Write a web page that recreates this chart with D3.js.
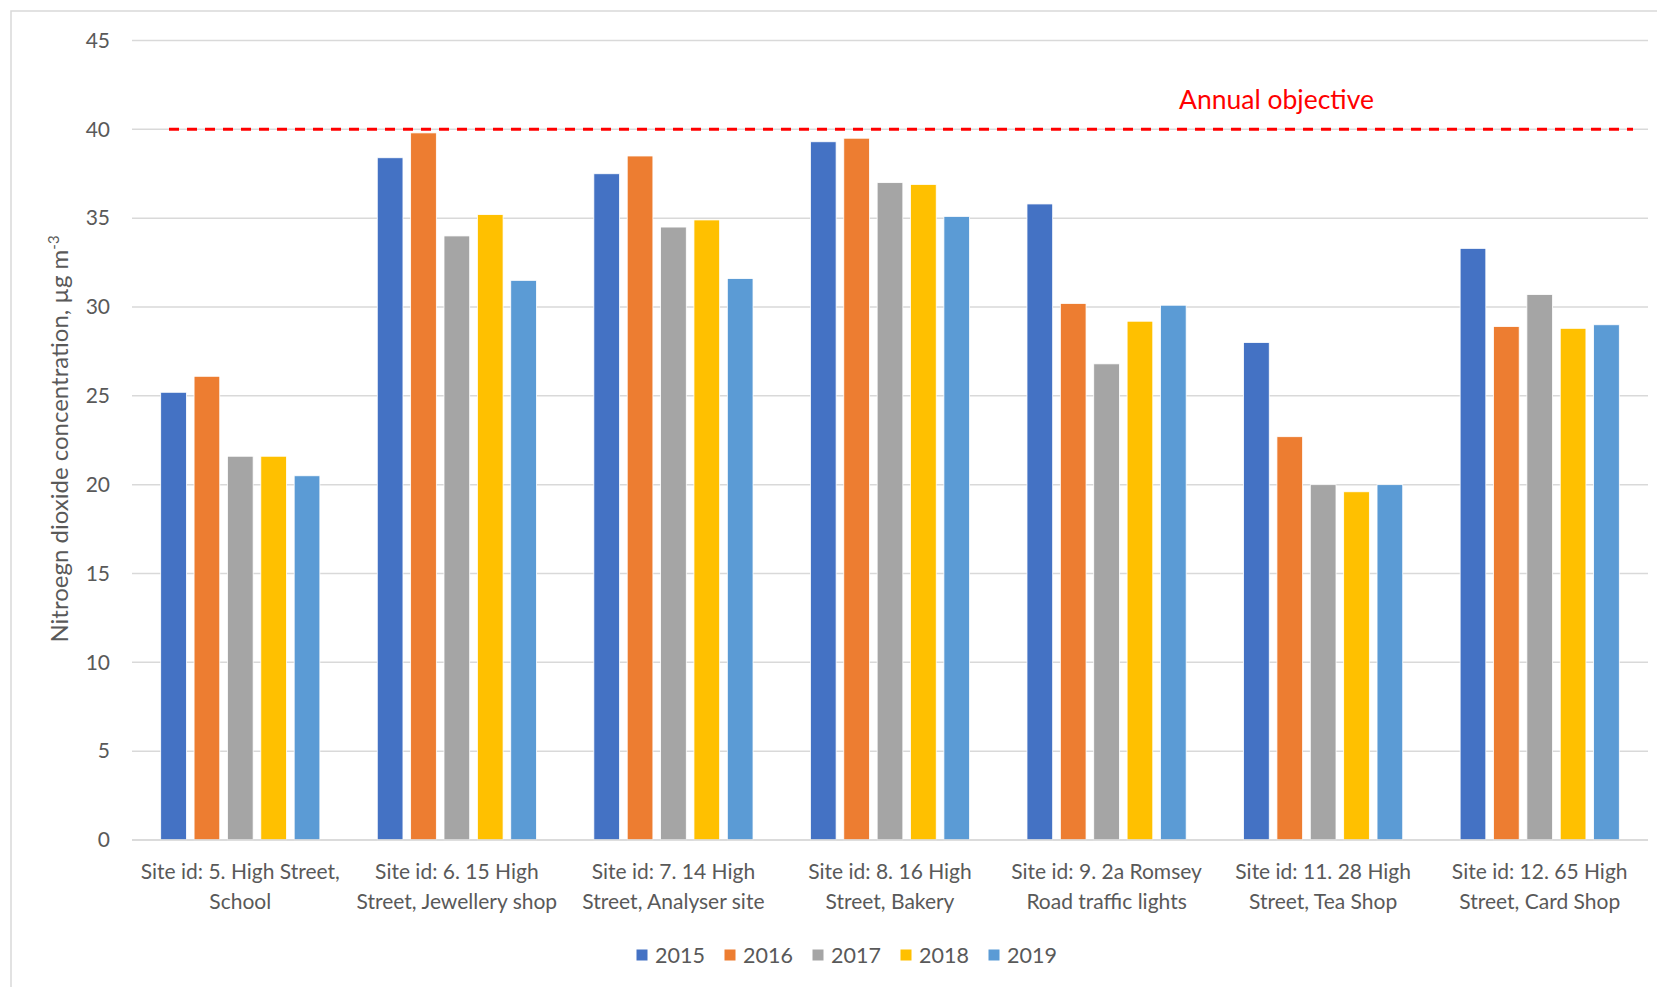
<!DOCTYPE html>
<html>
<head>
<meta charset="utf-8">
<script src="https://cdn.jsdelivr.net/npm/d3@7"></script>
<style>
  body { margin: 0; background: #fff; }
  svg text { font-family: Lato, "Open Sans", sans-serif; }
</style>
</head>
<body>
<svg id="chart" width="1657" height="987"></svg>
<script>
// Site labels, split where the chart wraps them
const sites = [
  "Site id: 5. High Street,|School",
  "Site id: 6. 15 High|Street, Jewellery shop",
  "Site id: 7. 14 High|Street, Analyser site",
  "Site id: 8. 16 High|Street, Bakery",
  "Site id: 9. 2a Romsey|Road traffic lights",
  "Site id: 11. 28 High|Street, Tea Shop",
  "Site id: 12. 65 High|Street, Card Shop"
];
const years = ["2015", "2016", "2017", "2018", "2019"];
const colors = ["#4472C4", "#ED7D31", "#A5A5A5", "#FFC000", "#5B9BD5"];

// One array per year, in site order (ug m-3)
const v2015 = [25.2, 38.4, 37.5, 39.3, 35.8, 28.0, 33.3];
const v2016 = [26.1, 39.8, 38.5, 39.5, 30.2, 22.7, 28.9];
const v2017 = [21.6, 34.0, 34.5, 37.0, 26.8, 20.0, 30.7];
const v2018 = [21.6, 35.2, 34.9, 36.9, 29.2, 19.6, 28.8];
const v2019 = [20.5, 31.5, 31.6, 35.1, 30.1, 20.0, 29.0];
const series = [v2015, v2016, v2017, v2018, v2019];

const yTicks = [0, 5, 10, 15, 20, 25, 30, 35, 40, 45];
const objective = 40;
const objectiveLabel = "Annual objective";

const svg = d3.select("#chart");
const plot = { left: 132, right: 1648, top: 40.5, bottom: 840 };

// chart frame (Excel's light border, runs off the right/bottom)
svg.append("rect")
  .attr("x", 11).attr("y", 11)
  .attr("width", 1700).attr("height", 1000)
  .attr("fill", "#fff").attr("stroke", "#d9d9d9").attr("stroke-width", 1.5);

const y = d3.scaleLinear().domain([0, 45]).range([plot.bottom, plot.top]);

const x0 = d3.scaleBand()
  .domain(sites)
  .range([plot.left, plot.right])
  .paddingInner(0.265)
  .paddingOuter(0.1325);

const x1 = d3.scaleBand()
  .domain(years)
  .range([0, x0.bandwidth()])
  .paddingInner(0.23);

// gridlines
svg.append("g")
  .selectAll("line")
  .data(yTicks)
  .join("line")
  .attr("x1", plot.left).attr("x2", plot.right)
  .attr("y1", d => y(d)).attr("y2", d => y(d))
  .attr("stroke", "#d9d9d9").attr("stroke-width", 1.5);

// y tick labels
const yAxis = svg.append("g")
  .attr("transform", `translate(${plot.left - 22},0)`)
  .call(d3.axisLeft(y).tickValues(yTicks).tickSize(0).tickPadding(0));
yAxis.select(".domain").remove();
yAxis.selectAll("text")
  .attr("fill", "#595959")
  .style("font-size", "21px")
  .style("font-family", "Lato, 'Open Sans', sans-serif");

// bars
const groups = svg.append("g")
  .selectAll("g")
  .data(sites)
  .join("g")
  .attr("transform", d => `translate(${x0(d)},0)`);

groups.selectAll("rect")
  .data((d, i) => years.map((yr, j) => ({ yr, j, v: series[j][i] })))
  .join("rect")
  .attr("x", d => x1(d.yr))
  .attr("width", x1.bandwidth())
  .attr("y", d => y(d.v))
  .attr("height", d => y(0) - y(d.v))
  .attr("fill", d => colors[d.j])
  .attr("stroke", "#fff").attr("stroke-width", 0.8);

// baseline
svg.append("line")
  .attr("x1", plot.left).attr("x2", plot.right)
  .attr("y1", y(0)).attr("y2", y(0))
  .attr("stroke", "#d9d9d9").attr("stroke-width", 1.5);

// category labels, two lines each
const xLabels = svg.append("g")
  .selectAll("text")
  .data(sites)
  .join("text")
  .attr("text-anchor", "middle")
  .attr("fill", "#595959")
  .style("font-size", "21px");
xLabels.selectAll("tspan")
  .data(d => d.split("|").map(t => ({ t, site: d })))
  .join("tspan")
  .attr("x", d => x0(d.site) + x0.bandwidth() / 2)
  .attr("y", (d, i) => 879 + i * 29.5)
  .text(d => d.t);

// annual objective line
svg.append("line")
  .attr("x1", plot.left + 37).attr("x2", plot.right - 15)
  .attr("y1", y(objective)).attr("y2", y(objective))
  .attr("stroke", "#FF0000").attr("stroke-width", 3)
  .attr("stroke-dasharray", "10 8");

svg.append("text")
  .attr("x", 1179).attr("y", y(objective) - 20)
  .attr("fill", "#FF0000")
  .style("font-size", "26.5px")
  .text(objectiveLabel);

// y axis title
const yTitle = svg.append("text")
  .attr("transform", "translate(68,439) rotate(-90)")
  .attr("text-anchor", "middle")
  .attr("fill", "#595959")
  .style("font-size", "24px");
yTitle.append("tspan").text("Nitroegn dioxide concentration, µg m");
yTitle.append("tspan").attr("dy", -9).style("font-size", "15px").text("-3");

// legend
const legend = svg.append("g")
  .selectAll("g")
  .data(years)
  .join("g")
  .attr("transform", (d, i) => `translate(${642 + i * 88},955)`);
legend.append("rect")
  .attr("x", -5.5).attr("y", -5.5)
  .attr("width", 11).attr("height", 11)
  .attr("fill", (d, i) => colors[i]);
legend.append("text")
  .attr("x", 13).attr("y", 7.5)
  .attr("fill", "#595959")
  .style("font-size", "21.5px")
  .text(d => d);
</script>
</body>
</html>
